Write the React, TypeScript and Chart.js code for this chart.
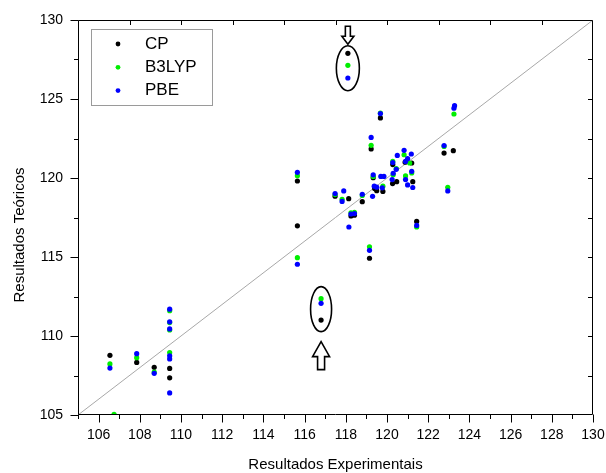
import { useEffect, useRef } from "react";
import { Chart, registerables } from "chart.js";

Chart.register(...registerables);

const X_MIN = 105;
const X_MAX = 130;
const Y_MIN = 105;
const Y_MAX = 130;

const xTickValues = [106, 108, 110, 112, 114, 116, 118, 120, 122, 124, 126, 128, 130];
const xMinorValues = [105, 107, 109, 111, 113, 115, 117, 119, 121, 123, 125, 127, 129];
const yTickValues = [105, 110, 115, 120, 125, 130];
const yMinorValues = [107.5, 112.5, 117.5, 122.5, 127.5];
const topTickValues = [107.5, 110, 112.5, 115, 117.5, 120, 122.5, 125, 127.5];
const rightTickValues = [107.5, 110, 112.5, 115, 117.5, 120, 122.5, 125, 127.5];

const seriesLabels = ["CP", "B3LYP", "PBE"];
const seriesColors = ["#000000", "#00ee00", "#0000ff"];

const cpExp = [106.55, 107.85, 108.7, 109.45, 109.45, 115.65, 115.65, 116.8, 118.1, 117.48, 118.14, 118.8, 118.25, 118.42, 119.68, 119.23, 119.15, 119.33, 119.4, 119.5, 119.8, 120.28, 120.27, 120.47, 120.88, 121.2, 121.25, 121.44, 122.77, 123.22];
const cpTeo = [108.78, 108.33, 108.02, 107.95, 107.35, 119.81, 116.97, 111.01, 127.89, 118.85, 118.69, 118.5, 117.6, 117.65, 123.8, 121.84, 114.92, 120.02, 119.33, 119.2, 119.15, 120.85, 119.65, 119.77, 121.0, 120.95, 119.77, 117.25, 121.58, 121.73];

const b3lypExp = [106.55, 106.75, 107.85, 108.7, 109.45, 109.45, 109.45, 109.45, 115.65, 115.65, 116.8, 118.1, 117.48, 117.82, 118.8, 118.25, 118.42, 119.68, 119.23, 119.15, 119.33, 119.8, 120.28, 120.3, 120.45, 120.83, 120.9, 121.1, 121.2, 121.44, 122.77, 122.95, 123.25];
const b3lypTeo = [108.23, 105.04, 108.63, 107.72, 111.6, 110.85, 110.38, 108.95, 120.15, 114.96, 112.36, 127.13, 118.95, 118.65, 118.9, 117.8, 117.82, 124.1, 122.07, 115.65, 120.1, 119.48, 121.05, 120.2, 120.6, 121.47, 120.13, 120.95, 120.32, 116.9, 122.0, 119.41, 124.05];

const pbeExp = [106.55, 107.85, 108.7, 109.45, 109.45, 109.45, 109.45, 109.45, 109.45, 115.65, 115.65, 116.8, 118.1, 117.48, 117.9, 117.82, 118.8, 118.25, 118.42, 118.15, 119.68, 119.23, 119.15, 119.3, 119.33, 119.38, 119.5, 119.7, 119.85, 119.77, 120.28, 120.3, 120.25, 120.5, 120.45, 120.83, 120.9, 121.0, 121.18, 120.9, 121.0, 121.2, 121.25, 121.44, 122.77, 122.95, 123.28, 123.25];
const pbeTeo = [107.97, 108.88, 107.64, 111.7, 110.9, 110.45, 108.75, 108.55, 106.4, 120.36, 114.54, 112.07, 126.33, 119.02, 119.18, 118.52, 118.97, 117.72, 117.75, 116.9, 124.08, 122.57, 115.42, 118.84, 120.2, 119.48, 119.42, 120.1, 120.1, 119.38, 120.98, 120.3, 119.9, 121.43, 120.55, 121.75, 121.05, 121.22, 121.52, 119.9, 119.56, 120.42, 119.4, 117.0, 122.05, 119.18, 124.58, 124.42];

const idealLine = [105, 130];

// highlighted groups (experimental, theoretical centre of ellipse)
const highlightX = [118.1, 116.8];
const highlightY = [126.95, 111.7];

const xTitle = "Resultados Experimentais";
const yTitle = "Resultados Teóricos";

const FONT = "'Liberation Sans', Arial, sans-serif";

function toPoints(xs: number[], ys: number[]) {
  return xs.map((v, i) => ({ x: v, y: ys[i] }));
}

function drawArrow(
  ctx: CanvasRenderingContext2D,
  cx: number,
  tipY: number,
  dir: number, // +1 points down, -1 points up
  total: number,
  headH: number,
  headW: number,
  shaftW: number
) {
  const baseY = tipY - dir * headH;
  const endY = tipY - dir * total;
  ctx.beginPath();
  ctx.moveTo(cx, tipY);
  ctx.lineTo(cx + headW / 2, baseY);
  ctx.lineTo(cx + shaftW / 2, baseY);
  ctx.lineTo(cx + shaftW / 2, endY);
  ctx.lineTo(cx - shaftW / 2, endY);
  ctx.lineTo(cx - shaftW / 2, baseY);
  ctx.lineTo(cx - headW / 2, baseY);
  ctx.closePath();
  ctx.fillStyle = "#ffffff";
  ctx.fill();
  ctx.lineWidth = 1.6;
  ctx.strokeStyle = "#000000";
  ctx.stroke();
}

const decorPlugin = {
  id: "decor",
  afterDraw(chart: any) {
    const { ctx, chartArea: a } = chart;
    const xs = chart.scales.x;
    const ys = chart.scales.y;
    const L = Math.round(a.left) + 0.5;
    const R = Math.round(a.right) - 0.5;
    const T = Math.round(a.top) + 0.5;
    const B = Math.round(a.bottom) - 0.5;
    ctx.save();
    ctx.strokeStyle = "#000000";
    ctx.lineWidth = 1;
    ctx.beginPath();
    ctx.rect(L, T, R - L, B - T);
    ctx.stroke();

    ctx.beginPath();
    // bottom major / minor ticks (outward)
    xTickValues.forEach((v) => {
      const px = Math.round(xs.getPixelForValue(v)) + 0.5;
      ctx.moveTo(px, B);
      ctx.lineTo(px, B + 8);
    });
    xMinorValues.forEach((v) => {
      const px = Math.round(xs.getPixelForValue(v)) + 0.5;
      ctx.moveTo(px, B);
      ctx.lineTo(px, B + 4.5);
    });
    // left major / minor ticks (outward)
    yTickValues.forEach((v) => {
      const py = Math.round(ys.getPixelForValue(v)) + 0.5;
      ctx.moveTo(L, py);
      ctx.lineTo(L - 8, py);
    });
    yMinorValues.forEach((v) => {
      const py = Math.round(ys.getPixelForValue(v)) + 0.5;
      ctx.moveTo(L, py);
      ctx.lineTo(L - 4.5, py);
    });
    // top ticks (inward)
    topTickValues.forEach((v) => {
      const px = Math.round(xs.getPixelForValue(v)) + 0.5;
      ctx.moveTo(px, T);
      ctx.lineTo(px, T + 4.5);
    });
    // right ticks (inward)
    rightTickValues.forEach((v) => {
      const py = Math.round(ys.getPixelForValue(v)) + 0.5;
      ctx.moveTo(R, py);
      ctx.lineTo(R - 4.5, py);
    });
    ctx.stroke();

    // y title
    ctx.save();
    ctx.translate(20, 235);
    ctx.rotate(-Math.PI / 2);
    ctx.font = `15px ${FONT}`;
    ctx.fillStyle = "#000000";
    ctx.textAlign = "center";
    ctx.textBaseline = "middle";
    ctx.fillText(yTitle, 0, 0);
    ctx.restore();

    // legend
    ctx.strokeStyle = "#9a9a9a";
    ctx.lineWidth = 1;
    ctx.strokeRect(91.5, 29.5, 121, 76);
    ctx.font = `17px ${FONT}`;
    ctx.textAlign = "left";
    ctx.textBaseline = "middle";
    seriesLabels.forEach((lab, i) => {
      const cy = 44 + i * 23.3;
      ctx.beginPath();
      ctx.arc(118, cy, 2.4, 0, Math.PI * 2);
      ctx.fillStyle = seriesColors[i];
      ctx.fill();
      ctx.fillStyle = "#000000";
      ctx.fillText(lab, 145, cy);
    });

    // highlight ellipses and arrows
    highlightX.forEach((hx, i) => {
      const cx = xs.getPixelForValue(hx);
      const cy = ys.getPixelForValue(highlightY[i]);
      const rx = i === 0 ? 11.5 : 10.5;
      const ry = 22.5;
      ctx.beginPath();
      ctx.ellipse(cx, cy, rx, ry, 0, 0, Math.PI * 2);
      ctx.lineWidth = 1.6;
      ctx.strokeStyle = "#000000";
      ctx.stroke();
      if (i === 0) {
        drawArrow(ctx, cx, cy - ry - 1.5, 1, 18, 8, 12, 5);
      } else {
        drawArrow(ctx, cx, cy + ry + 10, -1, 28, 15, 17, 7);
      }
    });
    ctx.restore();
  },
};

export default function App() {
  const canvasRef = useRef<HTMLCanvasElement | null>(null);

  useEffect(() => {
    if (!canvasRef.current) return;
    const makeSet = (label: string, xs: number[], ysArr: number[], color: string, order: number) => ({
      type: "scatter" as const,
      label,
      data: toPoints(xs, ysArr),
      backgroundColor: color,
      borderColor: color,
      borderWidth: 0,
      pointRadius: 2.6,
      pointHoverRadius: 2.6,
      order,
    });
    const chart = new Chart(canvasRef.current, {
      type: "scatter",
      data: {
        datasets: [
          {
            type: "line" as const,
            label: "y = x",
            data: toPoints(idealLine, idealLine),
            borderColor: "#a8a8a8",
            borderWidth: 1,
            pointRadius: 0,
            fill: false,
            order: 4,
          } as any,
          makeSet(seriesLabels[0], cpExp, cpTeo, seriesColors[0], 3),
          makeSet(seriesLabels[1], b3lypExp, b3lypTeo, seriesColors[1], 2),
          makeSet(seriesLabels[2], pbeExp, pbeTeo, seriesColors[2], 1),
        ],
      },
      options: {
        animation: false,
        responsive: true,
        maintainAspectRatio: false,
        events: [],
        layout: { padding: { top: 20, right: 13, left: 0, bottom: 0 } },
        plugins: {
          legend: { display: false },
          tooltip: { enabled: false },
        },
        scales: {
          x: {
            type: "linear",
            min: X_MIN,
            max: X_MAX,
            afterBuildTicks: (scale: any) => {
              scale.ticks = xTickValues.map((v) => ({ value: v }));
            },
            afterFit: (scale: any) => {
              scale.height = 58;
              scale.paddingLeft = 0;
              scale.paddingRight = 0;
            },
            grid: { display: false, drawTicks: false },
            border: { display: false },
            ticks: {
              padding: 12,
              color: "#000000",
              font: { family: FONT, size: 14 },
              maxRotation: 0,
              autoSkip: false,
            },
            title: {
              display: true,
              text: xTitle,
              color: "#000000",
              font: { family: FONT, size: 15, lineHeight: 1.07 },
              padding: 0,
            },
          },
          y: {
            type: "linear",
            min: Y_MIN,
            max: Y_MAX,
            afterBuildTicks: (scale: any) => {
              scale.ticks = yTickValues.map((v) => ({ value: v }));
            },
            afterFit: (scale: any) => {
              scale.width = 78;
              scale.paddingTop = 0;
              scale.paddingBottom = 0;
            },
            grid: { display: false, drawTicks: false },
            border: { display: false },
            ticks: {
              padding: 15,
              color: "#000000",
              font: { family: FONT, size: 14 },
              autoSkip: false,
            },
          },
        },
      },
      plugins: [decorPlugin],
    });
    return () => chart.destroy();
  }, []);

  return (
    <div style={{ position: "absolute", left: 0, top: 0, width: 606, height: 473, background: "#ffffff" }}>
      <canvas ref={canvasRef} />
    </div>
  );
}
